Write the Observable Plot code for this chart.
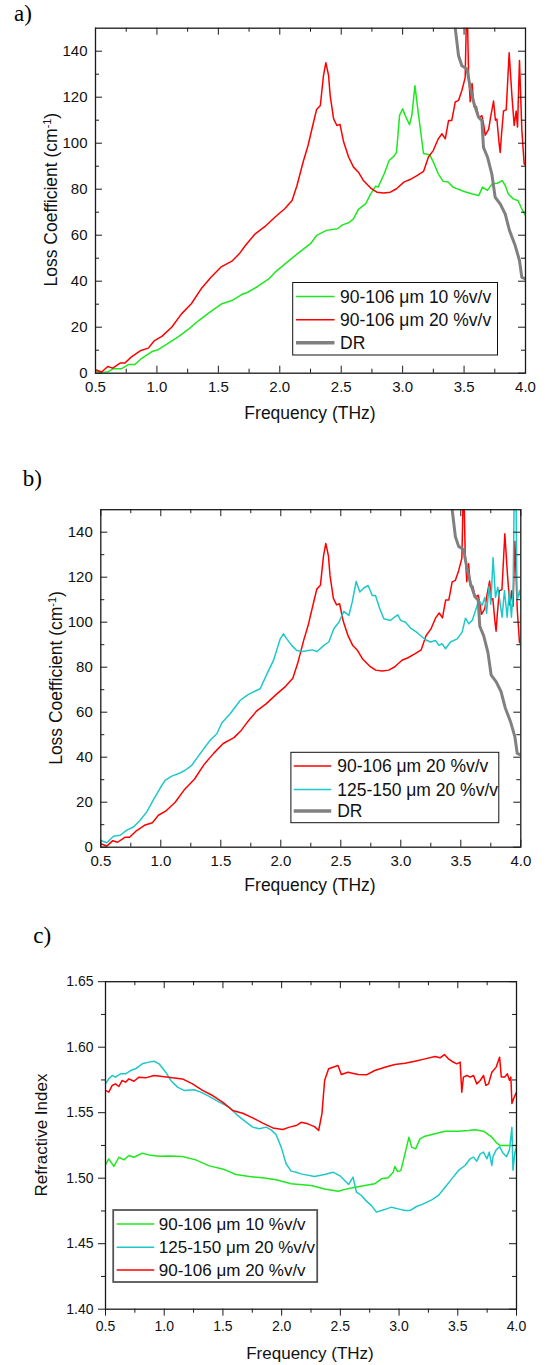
<!DOCTYPE html>
<html><head><meta charset="utf-8">
<script src="https://cdn.jsdelivr.net/npm/d3@7"></script>
<script src="https://cdn.jsdelivr.net/npm/@observablehq/plot@0.6"></script>
<style>
body{margin:0;background:#fff;}
#wrap{position:relative;width:550px;height:1365px;overflow:hidden;background:#fff;}
#wrap > svg{position:absolute;left:0;}
#overlay{position:absolute;left:0;top:0;pointer-events:none;}
</style></head>
<body><div id="wrap"></div>
<script>
// ---------- tick values ----------
const xMajor = [0.5, 1.0, 1.5, 2.0, 2.5, 3.0, 3.5, 4.0];
const xMinor = [0.75, 1.25, 1.75, 2.25, 2.75, 3.25, 3.75];
const lossMajor = [0, 20, 40, 60, 80, 100, 120, 140];
const lossMinor = [10, 30, 50, 70, 90, 110, 130];
const nMajor = [1.40, 1.45, 1.50, 1.55, 1.60, 1.65];
const nMinor = [1.425, 1.475, 1.525, 1.575, 1.625];

// ---------- legend labels ----------
const lab10 = "90-106 \u03bcm 10 %v/v";
const lab20 = "90-106 \u03bcm 20 %v/v";
const lab125 = "125-150 \u03bcm 20 %v/v";
const labDR = "DR";

// ---------- loss coefficient (cm^-1) vs frequency (THz) ----------
const loss90_10 = [[0.50,1.0],[0.55,0.3],[0.60,0.5],[0.64,1.9],[0.71,1.9],[0.77,3.8],[0.82,3.8],[0.87,6.2],[0.96,9.4],[1.01,10.2],[1.09,13.0],[1.17,15.7],[1.26,19.3],[1.34,22.9],[1.42,26.1],[1.53,30.2],[1.61,31.6],[1.69,34.2],[1.74,35.2],[1.82,37.7],[1.91,41.0],[1.97,44.3],[2.07,48.7],[2.15,52.2],[2.25,56.3],[2.30,59.9],[2.38,62.1],[2.47,62.8],[2.51,64.5],[2.56,65.4],[2.60,67.1],[2.64,71.2],[2.70,73.7],[2.74,78.0],[2.78,81.3],[2.80,80.9],[2.85,86.7],[2.89,92.5],[2.93,94.4],[2.95,96.0],[2.975,112.1],[3.00,115.0],[3.02,112.1],[3.056,108.0],[3.075,112.1],[3.10,125.0],[3.13,112.1],[3.17,95.5],[3.22,95.0],[3.25,91.8],[3.29,86.7],[3.33,83.4],[3.37,83.1],[3.41,80.9],[3.50,79.0],[3.56,78.0],[3.62,77.3],[3.65,80.9],[3.69,79.5],[3.73,82.4],[3.77,82.6],[3.81,83.7],[3.835,81.6],[3.86,77.9],[3.90,75.8],[3.94,75.0],[3.97,71.4],[4.00,68.5]];

const loss90_20 = [[0.50,1.5],[0.55,0.5],[0.60,2.9],[0.64,2.2],[0.70,4.4],[0.74,4.4],[0.79,7.0],[0.87,9.9],[0.93,10.9],[0.98,14.2],[1.04,16.0],[1.12,20.0],[1.20,25.8],[1.28,30.2],[1.36,36.7],[1.44,41.7],[1.52,46.1],[1.61,48.7],[1.67,51.9],[1.72,55.5],[1.80,60.6],[1.88,63.8],[1.96,67.8],[2.04,71.5],[2.10,75.1],[2.14,81.6],[2.19,91.8],[2.23,99.0],[2.275,109.2],[2.30,114.7],[2.33,116.4],[2.356,129.5],[2.375,135.0],[2.397,129.5],[2.41,120.8],[2.438,110.6],[2.465,107.7],[2.49,108.2],[2.52,100.5],[2.56,94.0],[2.60,89.6],[2.64,87.4],[2.68,83.8],[2.74,80.5],[2.79,78.7],[2.845,78.3],[2.90,78.7],[2.95,80.2],[3.01,83.1],[3.06,84.2],[3.12,86.0],[3.17,87.7],[3.21,94.0],[3.25,96.9],[3.29,101.9],[3.32,104.1],[3.347,101.9],[3.374,109.9],[3.40,109.9],[3.428,117.9],[3.455,118.6],[3.482,122.9],[3.509,128.5],[3.523,165],[3.537,130],[3.55,118],[3.565,126],[3.58,116],[3.60,116],[3.62,111],[3.645,112],[3.66,108],[3.672,103.5],[3.70,106],[3.718,112],[3.74,118.3],[3.755,110],[3.767,110.5],[3.785,100],[3.794,96],[3.805,104],[3.821,114],[3.843,114.5],[3.867,139.3],[3.889,121],[3.908,107.7],[3.924,114],[3.935,107],[3.951,136],[3.97,106],[3.989,91],[4.00,90.5]];

const loss125_20 = [[0.50,3.0],[0.55,2.0],[0.606,4.9],[0.661,5.3],[0.717,7.6],[0.772,9.0],[0.828,12.0],[0.883,15.7],[0.939,21.1],[0.995,26.3],[1.036,29.7],[1.092,31.6],[1.161,33.0],[1.203,34.2],[1.258,36.4],[1.328,41.6],[1.411,47.5],[1.467,50.4],[1.508,55.2],[1.578,59.3],[1.661,65.2],[1.717,67.5],[1.772,69.0],[1.828,70.4],[1.883,76.8],[1.939,83.0],[1.995,92.6],[2.022,94.8],[2.05,92.6],[2.092,89.6],[2.133,87.4],[2.178,87.0],[2.262,87.7],[2.303,87.0],[2.359,89.7],[2.40,91.2],[2.442,97.1],[2.484,100.0],[2.525,104.8],[2.567,103.0],[2.595,108.9],[2.628,118.1],[2.659,113.4],[2.692,115.2],[2.728,116.3],[2.762,111.9],[2.789,111.9],[2.825,106.0],[2.859,101.5],[2.914,100.8],[2.948,102.3],[2.975,103.3],[2.998,100.8],[3.039,100.0],[3.081,97.4],[3.123,95.9],[3.164,94.1],[3.206,92.2],[3.248,91.2],[3.289,91.9],[3.317,89.7],[3.345,90.4],[3.373,88.2],[3.414,91.2],[3.47,92.6],[3.511,95.6],[3.539,101.8],[3.567,99.3],[3.595,100.8],[3.623,105.2],[3.65,109.7],[3.678,107.5],[3.70,111.0],[3.715,104.0],[3.735,116.0],[3.75,108.0],[3.769,128.7],[3.789,111.0],[3.808,115.5],[3.825,109.6],[3.844,102.2],[3.864,114.1],[3.886,102.2],[3.905,114.1],[3.922,102.2],[3.936,114.1],[3.947,165],[3.958,165],[3.969,109.6],[3.99,114.1],[4.00,110.0]];

const lossDR = [[3.40,165],[3.428,150],[3.455,138],[3.482,133.7],[3.523,132.3],[3.55,124.3],[3.582,117],[3.618,111.3],[3.645,109.8],[3.658,98.2],[3.691,93.9],[3.726,86.6],[3.753,76.5],[3.794,73.6],[3.835,69.2],[3.87,62.0],[3.916,55.5],[3.951,49.0],[3.97,41.7],[4.00,41.0]];

// ---------- refractive index vs frequency (THz) ----------
const n90_10 = [[0.50,1.5104],[0.528,1.5148],[0.571,1.509],[0.614,1.516],[0.657,1.514],[0.699,1.5173],[0.742,1.516],[0.813,1.5191],[0.87,1.5178],[0.956,1.5168],[1.041,1.517],[1.155,1.5165],[1.269,1.514],[1.383,1.5094],[1.497,1.5071],[1.611,1.5028],[1.725,1.5013],[1.839,1.5003],[1.953,1.4988],[2.081,1.4957],[2.252,1.4944],[2.366,1.4918],[2.48,1.4901],[2.594,1.4926],[2.708,1.4944],[2.793,1.4957],[2.85,1.4995],[2.907,1.5003],[2.95,1.5046],[2.964,1.509],[2.987,1.5051],[3.015,1.5058],[3.05,1.5186],[3.084,1.5313],[3.107,1.5237],[3.141,1.5224],[3.178,1.530],[3.221,1.5321],[3.306,1.5339],[3.392,1.5359],[3.506,1.5359],[3.591,1.5364],[3.648,1.5369],[3.719,1.5359],[3.79,1.5313],[3.83,1.527],[3.86,1.525],[4.00,1.525]];

const n125_20 = [[0.50,1.572],[0.528,1.5758],[0.557,1.5784],[0.585,1.5771],[0.628,1.5797],[0.671,1.5797],[0.714,1.5822],[0.756,1.5835],[0.813,1.5873],[0.87,1.5886],[0.913,1.5893],[0.956,1.5873],[1.013,1.5809],[1.056,1.5746],[1.113,1.5695],[1.169,1.567],[1.255,1.5675],[1.312,1.5657],[1.383,1.5624],[1.469,1.5581],[1.554,1.5542],[1.625,1.5479],[1.697,1.5428],[1.754,1.539],[1.811,1.5377],[1.868,1.539],[1.91,1.5369],[1.953,1.5331],[1.996,1.5237],[2.038,1.511],[2.081,1.5054],[2.124,1.5046],[2.166,1.5033],[2.28,1.5013],[2.366,1.5028],[2.437,1.5046],[2.494,1.502],[2.537,1.4982],[2.571,1.4952],[2.608,1.5008],[2.637,1.4893],[2.679,1.4868],[2.722,1.4825],[2.765,1.4791],[2.807,1.4741],[2.85,1.4753],[2.893,1.4766],[2.936,1.4779],[2.993,1.4766],[3.05,1.4753],[3.092,1.4753],[3.149,1.4784],[3.206,1.4804],[3.278,1.4835],[3.335,1.4868],[3.392,1.4931],[3.449,1.4995],[3.506,1.5059],[3.562,1.5097],[3.605,1.5148],[3.634,1.5161],[3.662,1.513],[3.691,1.5186],[3.719,1.5199],[3.748,1.5148],[3.768,1.5199],[3.79,1.5097],[3.80,1.5165],[3.827,1.5216],[3.856,1.524],[3.886,1.519],[3.916,1.5165],[3.94,1.5216],[3.961,1.5388],[3.97,1.506],[3.985,1.519],[4.00,1.524]];

const n90_20 = [[0.50,1.567],[0.528,1.5657],[0.557,1.5708],[0.585,1.572],[0.614,1.570],[0.642,1.5746],[0.671,1.5733],[0.699,1.5758],[0.742,1.574],[0.785,1.5771],[0.842,1.5766],[0.913,1.5784],[0.984,1.5776],[1.07,1.5766],[1.155,1.5758],[1.241,1.572],[1.326,1.567],[1.412,1.5631],[1.497,1.5581],[1.583,1.5517],[1.668,1.5496],[1.754,1.5461],[1.839,1.542],[1.925,1.5384],[2.01,1.5372],[2.067,1.539],[2.124,1.5402],[2.166,1.5427],[2.223,1.5415],[2.28,1.5394],[2.315,1.5364],[2.343,1.5491],[2.366,1.5746],[2.40,1.5835],[2.437,1.5847],[2.48,1.586],[2.508,1.5791],[2.565,1.5809],[2.651,1.5791],[2.722,1.5789],[2.793,1.5822],[2.879,1.5847],[2.964,1.5868],[3.05,1.5878],[3.135,1.5893],[3.221,1.5911],[3.306,1.5929],[3.349,1.5919],[3.386,1.5944],[3.42,1.5911],[3.449,1.5893],[3.491,1.5873],[3.52,1.5886],[3.534,1.5657],[3.548,1.5771],[3.577,1.5784],[3.605,1.5771],[3.634,1.5784],[3.662,1.572],[3.691,1.5746],[3.719,1.5784],[3.739,1.5708],[3.762,1.572],[3.79,1.5809],[3.827,1.5848],[3.856,1.5924],[3.871,1.5772],[3.90,1.5772],[3.922,1.5797],[3.94,1.5747],[3.952,1.5772],[3.961,1.557],[3.976,1.5608],[4.00,1.5658]];

// ---------- colours ----------
const cGreen = "#1ee81e", cRed = "#ff0000", cCyan = "#1ec8c8", cGrey = "#808080";

const wrap = document.getElementById("wrap");
const SANS = "'Liberation Sans', Arial, sans-serif";

function panel(cfg) {
  const W = 550;
  const pw = W - cfg.ml - cfg.mr, ph = cfg.height - cfg.mt - cfg.mb;
  const T = 7, t = 4, ink = "#1a1a1a";
  const marks = [];
  for (const s of cfg.series) {
    marks.push(Plot.line(s.data, {x: d => d[0], y: d => d[1], stroke: s.color, strokeWidth: s.w, clip: true, strokeLinejoin: "round"}));
  }
  marks.push(Plot.ruleX(xMajor, {insetBottom: ph - T, stroke: ink, strokeWidth: 1}));
  marks.push(Plot.ruleX(xMinor, {insetBottom: ph - t, stroke: ink, strokeWidth: 1}));
  marks.push(Plot.ruleY(cfg.yMaj, {insetLeft: pw - T, stroke: ink, strokeWidth: 1}));
  marks.push(Plot.ruleY(cfg.yMin, {insetLeft: pw - t, stroke: ink, strokeWidth: 1}));
  if (cfg.outward) {
    marks.push(Plot.axisX({ticks: xMajor, tickSize: T, tickPadding: cfg.xpad, tickFormat: d3.format(".1f"), label: null, stroke: ink}));
    marks.push(Plot.axisX({ticks: xMinor, tickSize: t, tickFormat: () => "", label: null, stroke: ink}));
    marks.push(Plot.axisY({ticks: cfg.yMaj, tickSize: T, tickPadding: cfg.ypad, tickFormat: d3.format(cfg.yFmt), label: null, stroke: ink}));
    marks.push(Plot.axisY({ticks: cfg.yMin, tickSize: t, tickFormat: () => "", label: null, stroke: ink}));
  } else {
    marks.push(Plot.ruleX(xMajor, {insetTop: ph - T, stroke: ink, strokeWidth: 1}));
    marks.push(Plot.ruleX(xMinor, {insetTop: ph - t, stroke: ink, strokeWidth: 1}));
    marks.push(Plot.ruleY(cfg.yMaj, {insetRight: pw - T, stroke: ink, strokeWidth: 1}));
    marks.push(Plot.ruleY(cfg.yMin, {insetRight: pw - t, stroke: ink, strokeWidth: 1}));
    marks.push(Plot.axisX({ticks: xMajor, tickSize: 0, tickPadding: cfg.xpad, tickFormat: d3.format(".1f"), label: null}));
    marks.push(Plot.axisY({ticks: cfg.yMaj, tickSize: 0, tickPadding: cfg.ypad, tickFormat: d3.format(cfg.yFmt), label: null}));
  }
  marks.push(Plot.frame({stroke: ink, strokeWidth: 1.3}));
  const svg = Plot.plot({
    width: W, height: cfg.height,
    marginLeft: cfg.ml, marginRight: cfg.mr, marginTop: cfg.mt, marginBottom: cfg.mb,
    x: {domain: [0.5, 4.0]},
    y: {domain: cfg.ydom},
    style: {fontSize: cfg.fs + "px", fontFamily: SANS, color: "#111", background: "transparent", overflow: "visible"},
    marks
  });
  svg.style.top = cfg.top + "px";
  wrap.appendChild(svg);
}

panel({top: 0, height: 430, ml: 95, mr: 25, mt: 27.7, mb: 57.3, ydom: [0, 150], yMaj: lossMajor, yMin: lossMinor, yFmt: "d", fs: 15, xpad: 8, ypad: 8,
  series: [{data: loss90_10, color: cGreen, w: 1.5}, {data: loss90_20, color: cRed, w: 1.5}, {data: lossDR, color: cGrey, w: 3}]});
panel({top: 470, height: 430, ml: 100.3, mr: 29.7, mt: 39.2, mb: 53.3, ydom: [0, 150], yMaj: lossMajor, yMin: lossMinor, yFmt: "d", fs: 15, xpad: 8, ypad: 8,
  series: [{data: loss90_20, color: cRed, w: 1.5}, {data: loss125_20, color: cCyan, w: 1.5}, {data: lossDR, color: cGrey, w: 3}]});
panel({top: 920, height: 445, ml: 105, mr: 34, mt: 61.2, mb: 56.3, ydom: [1.40, 1.65], yMaj: nMajor, yMin: nMinor, yFmt: ".2f", fs: 14, xpad: 5, ypad: 5, outward: true,
  series: [{data: n90_10, color: cGreen, w: 1.5}, {data: n125_20, color: cCyan, w: 1.5}, {data: n90_20, color: cRed, w: 1.5}]});

// ---------- overlay: panel letters, axis titles, legends ----------
const NS = "http://www.w3.org/2000/svg";
const ov = document.createElementNS(NS, "svg");
ov.setAttribute("id", "overlay");
ov.setAttribute("width", 550); ov.setAttribute("height", 1365);
wrap.appendChild(ov);
function el(tag, attrs, parent) {
  const e = document.createElementNS(NS, tag);
  for (const k in attrs) e.setAttribute(k, attrs[k]);
  (parent || ov).appendChild(e);
  return e;
}
function txt(s, attrs) { const e = el("text", attrs); e.textContent = s; return e; }

const serif = "'Liberation Serif', 'Times New Roman', serif";
txt("a)", {x: 14, y: 21, "font-family": serif, "font-size": 23});
txt("b)", {x: 22.8, y: 486, "font-family": serif, "font-size": 23});
txt("c)", {x: 33.3, y: 942.5, "font-family": serif, "font-size": 23});

for (const [cx, by, fs] of [[310, 418.5, 17.5], [310, 891, 17.5], [310, 1358.5, 17]]) {
  txt("Frequency (THz)", {x: cx, y: by, "text-anchor": "middle", "font-family": SANS, "font-size": fs, fill: "#111"});
}
function yTitle(cx, cy, fs, withSup) {
  const g = el("text", {transform: `translate(${cx},${cy}) rotate(-90)`, "text-anchor": "middle", dy: "0.35em", "font-family": SANS, "font-size": fs, fill: "#111"});
  if (withSup) {
    const a = el("tspan", {}, g); a.textContent = "Loss Coefficient (cm";
    const b = el("tspan", {dy: -6, "font-size": fs * 0.62}, g); b.textContent = "-1";
    const c = el("tspan", {dy: 6}, g); c.textContent = ")";
  } else {
    g.textContent = "Refractive Index";
  }
}
yTitle(50.8, 199.7, 17.5, true);
yTitle(56, 678, 17.5, true);
yTitle(41.4, 1135, 17, false);

function legend(box, rows, items, lx1, lx2, tx, fs, bstroke, bw) {
  el("rect", {x: box[0], y: box[1], width: box[2] - box[0], height: box[3] - box[1], fill: "#fff", stroke: bstroke, "stroke-width": bw});
  items.forEach((it, i) => {
    el("line", {x1: lx1, x2: lx2, y1: rows[i], y2: rows[i], stroke: it.color, "stroke-width": it.w});
    txt(it.label, {x: tx, y: rows[i] + fs * 0.36, "font-family": SANS, "font-size": fs, fill: "#111"});
  });
}
legend([292.7, 282.5, 497.5, 355], [296.5, 319.8, 342.7],
  [{label: lab10, color: cGreen, w: 1.5}, {label: lab20, color: cRed, w: 1.5}, {label: labDR, color: cGrey, w: 3.5}],
  296, 334.5, 340, 17.5, "#111", 1);
legend([290.9, 752.3, 498.8, 822.7], [766, 789.5, 811],
  [{label: lab20, color: cRed, w: 1.5}, {label: lab125, color: cCyan, w: 1.5}, {label: labDR, color: cGrey, w: 3.5}],
  293.7, 331.2, 337.2, 17.5, "#111", 1);
legend([113.2, 1210, 317.2, 1282], [1224, 1247.3, 1270],
  [{label: lab10, color: cGreen, w: 1.5}, {label: lab125, color: cCyan, w: 1.5}, {label: lab20, color: cRed, w: 1.5}],
  116.7, 154.2, 158.8, 17, "#555", 1.8);
</script>
</body></html>
